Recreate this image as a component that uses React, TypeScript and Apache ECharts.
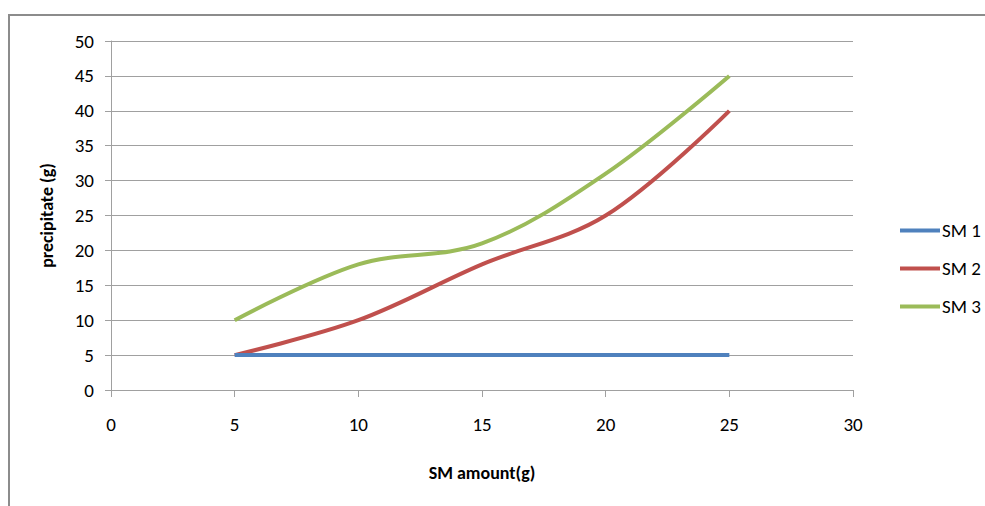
import React, { useEffect, useRef } from "react";
import * as echarts from "echarts";

const xValues = [5, 10, 15, 20, 25];
const sm1 = [5, 5, 5, 5, 5];
const sm2 = [5, 10, 18, 25, 40];
const sm3 = [10, 18, 21, 31, 45];
const seriesNames = ["SM 1", "SM 2", "SM 3"];
const seriesColors = ["#4F81BD", "#C0504D", "#9BBB59"];

const FONT = "Carlito, Lato, sans-serif";

export default function App() {
  const ref = useRef<HTMLDivElement>(null);
  useEffect(() => {
    document.body.style.margin = "0";
    const chart = echarts.init(ref.current!, null, { renderer: "svg" });
    const data = [sm1, sm2, sm3];
    chart.setOption({
      animation: false,
      backgroundColor: "#ffffff",
      textStyle: { fontFamily: FONT },
      grid: { left: 111, top: 41, right: 132, bottom: 116 },
      graphic: [
        {
          type: "rect",
          shape: { x: 9, y: 15, width: 1100, height: 600 },
          style: { fill: "none", stroke: "#8c8c8c", lineWidth: 2 },
          silent: true,
        },
      ],
      legend: {
        orient: "vertical",
        left: 895,
        top: 216,
        icon: "rect",
        itemWidth: 40,
        itemHeight: 4,
        itemGap: 19,
        textStyle: { fontSize: 19, color: "#000", fontFamily: FONT, padding: [0, 0, 0, -3] },
        data: seriesNames,
      },
      xAxis: {
        type: "value",
        min: 0,
        max: 30,
        interval: 5,
        name: "SM amount(g)",
        nameLocation: "middle",
        nameGap: 74,
        nameTextStyle: { fontSize: 18, fontWeight: "bold", color: "#000", fontFamily: FONT },
        axisLine: { show: true, lineStyle: { color: "#a0a0a0", width: 1 } },
        axisTick: { show: true, length: 7, lineStyle: { color: "#a0a0a0" } },
        axisLabel: { fontSize: 19, color: "#000", margin: 25, fontFamily: FONT },
        splitLine: { show: false },
      },
      yAxis: {
        type: "value",
        min: 0,
        max: 50,
        interval: 5,
        name: "precipitate (g)",
        nameLocation: "middle",
        nameGap: 55,
        nameTextStyle: { fontSize: 18, fontWeight: "bold", color: "#000", fontFamily: FONT },
        axisLine: { show: true, lineStyle: { color: "#a0a0a0", width: 1 } },
        axisTick: { show: true, length: 6, lineStyle: { color: "#a0a0a0" } },
        axisLabel: { fontSize: 19, color: "#000", margin: 17, fontFamily: FONT },
        splitLine: { show: true, lineStyle: { color: "#a0a0a0", width: 1 } },
      },
      series: seriesNames.map((name, i) => ({
        name,
        type: "line",
        smooth: i === 0 ? false : 0.35,
        symbol: "none",
        data: xValues.map((x, j) => [x, data[i][j]]),
        lineStyle: { color: seriesColors[i], width: 4 },
        itemStyle: { color: seriesColors[i] },
        z: 3 - i,
      })),
    });
    return () => chart.dispose();
  }, []);
  return <div ref={ref} style={{ width: 985, height: 506 }} />;
}
